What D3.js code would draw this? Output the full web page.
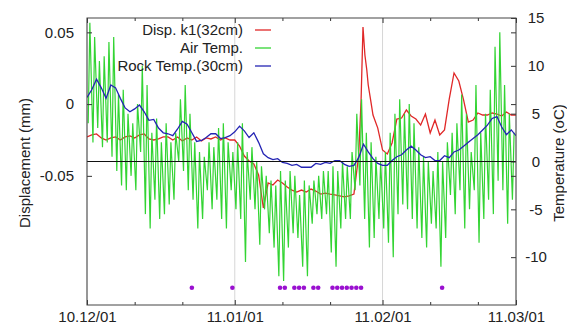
<!DOCTYPE html>
<html>
<head>
<meta charset="utf-8">
<script src="https://cdn.jsdelivr.net/npm/d3@7"></script>
<style>
  html, body { margin: 0; padding: 0; background: #fff; }
  svg { display: block; }
  text { font-family: "Liberation Sans", Arial, sans-serif; fill: #222; }
</style>
</head>
<body>
<div id="chart"></div>
<script>
// Data: day offsets counted from 2010-12-01
const startDate = new Date(2010, 11, 1);
const endDate = new Date(2011, 2, 1);

const dispTicks = [0.05, 0, -0.05];
const tempTicks = [15, 10, 5, 0, -5, -10];
const legendLabels = ["Disp. k1(32cm)", "Air Temp.", "Rock Temp.(30cm)"];

// Displacement k1 (mm)
const dispDays = [
  0, 1, 2, 3, 4, 5, 6, 7, 8, 9, 10, 11, 12, 13, 14, 15, 16, 17, 18, 19,
  20, 21, 22, 23, 24, 25, 26, 27, 28, 29, 30, 31, 32, 33, 34, 35, 36, 37, 38, 39,
  40, 41, 42, 43, 44, 45, 46, 47, 48, 49, 50, 51, 52, 53, 54, 55, 56, 57,
  57.5, 57.9, 58.3, 58.7, 59, 59.5,
  60, 61, 62, 63, 64, 65, 66, 67, 68, 69, 70, 71, 72, 73, 74, 75, 76, 77, 78, 79,
  80, 81, 82, 83, 84, 85, 86, 87, 88, 89, 90
];
const dispValues = [
  -0.0229, -0.0215, -0.0208, -0.0236, -0.0250, -0.0236, -0.0229, -0.0250, -0.0229, -0.0222,
  -0.0236, -0.0215, -0.0208, -0.0243, -0.0250, -0.0243, -0.0229, -0.0229, -0.0250, -0.0229,
  -0.0257, -0.0236, -0.0250, -0.0229, -0.0257, -0.0236, -0.0243, -0.0229, -0.0250, -0.0236,
  -0.0250, -0.0250, -0.0292, -0.0362, -0.0397, -0.0417, -0.0494, -0.0724, -0.0550, -0.0564,
  -0.0529, -0.0550, -0.0578, -0.0599, -0.0613, -0.0599, -0.0613, -0.0592, -0.0606, -0.0627,
  -0.0620, -0.0627, -0.0633, -0.0640, -0.0647, -0.0640, -0.0627, -0.0355,
  0.0029, 0.0537, 0.0342, 0.0238, 0.0133, 0.0029,
  -0.0076, -0.0167, -0.0320, -0.0348, -0.0271, -0.0104, -0.0097, -0.0041, -0.0083, -0.0104,
  -0.0146, -0.0069, -0.0201, -0.0111, -0.0215, -0.0180, 0.0036, 0.0217, 0.0161, 0.0029,
  -0.0125, -0.0111, -0.0062, -0.0076, -0.0076, -0.0062, -0.0069, -0.0083, -0.0055, -0.0076, -0.0076
];

// Air temperature, daily max / min (oC), days 0..89
const airMax = [
  14.5, 13, 10.5, 11, 12.5, 13, 7, 7.5, 5, 4,
  6, 10, 8, 3, 4.5, 2, 4, 2, 3, 6.5,
  8, 5, 2, 1, 0.5, 2, 1.5, 3.5, 4, 2,
  1, 2, 4, 1, 1.5, 0, -0.5, -1.5, -2, -2.5,
  -1, -2, -1, -1.5, -3.5, -2, -2.5, -2, -1.5, -1,
  -1, -0.5, -1, 0, -0.5, 1, 5, 6.5, 3, 2,
  0.5, 0, 1, 3, 5, 6.5, 5, 6, 4, 1.5,
  0.5, 0, -1, 1, 0, 2, 3, 4, 7, 5,
  1, 8, 3, 5, 7.5, 12, 13.5, 8, 5, 3
];
const airMin = [
  4, 2, 3.5, 1.5, 2, 0.5, -1, -2.5, -3, -1.5,
  -3, 1, -5.5, -7, -4, -6, -5.5, -4.5, -4, 0,
  -1, -3, -4, -7, -6, -3, -5, -4, -6, -7,
  -3, -5, -6, -10.5, -4, -5, -8.7, -5, -7.5, -9,
  -12, -12.5, -9, -7.5, -8, -11, -12, -6.5, -5.5, -6,
  -5.5, -9.5, -11, -7, -6, -6, -3, -2.5, -6, -9,
  -8, -6, -7, -8.5, -10, -5.5, -4.5, -5, -6, -7,
  -8, -9, -6.5, -7, -11, -8, -3.5, -5.5, -3, -7,
  -5, -3, -8.5, -6, -4, -5.5, -2, -3, -6.5, -4
];

// Rock temperature at 30cm (oC), days 0..90
const rockTemp = [
  6.7, 7.5, 8.6, 7.7, 6.6, 8.0, 7.7, 6.6, 5.6, 5.2,
  5.5, 5.9, 5.2, 4.3, 4.4, 3.5, 3.0, 2.9, 2.7, 3.4,
  4.2, 3.9, 3.0, 2.1, 2.2, 2.5, 2.9, 2.9, 2.4, 2.5,
  2.7, 3.1, 3.7, 3.2, 2.5, 3.0, 2.0, 0.8, 0.4, 0.2,
  0.3, -0.1, -0.2, -0.4, -0.3, -0.6, -0.6, -0.6, -0.2, -0.3,
  -0.1, -0.2, 0.1, 0.1, -0.3, -0.5, -0.4, 0.4, 1.8, 1.0,
  0.3, -0.2, -0.4, -0.4, 0.1, 0.5, 0.7, 1.2, 1.6, 1.2,
  0.7, 0.4, 0.5, 0.1, 0.1, 0.6, 0.4, 1.0, 1.2, 1.6,
  2.0, 2.4, 2.8, 3.3, 3.8, 4.5, 4.7, 3.6, 2.8, 3.3, 2.7
];

// Event markers (days) and the level they are drawn at (oC)
const eventDays = [22, 30.5, 40.5, 41.5, 43.5, 44.5, 45.5, 47.5, 48.5, 51.5, 52.5, 53.5, 54.5, 55.5, 56.5, 57.5, 74.5];
const eventLevel = -13.2;

// Configuration
const width = 567;
const height = 325;
const plot = { left: 87, right: 516, top: 18, bottom: 305 };
const colorDisp = "#e02828";
const colorAir = "#33d433";
const colorRock = "#2424b4";
const colorEvent = "#9a10d0";
const fontSize = 15;

const dayToDate = d => new Date(startDate.getTime() + d * 864e5);

const svg = d3.select("#chart")
  .append("svg")
  .attr("width", width)
  .attr("height", height)
  .attr("viewBox", `0 0 ${width} ${height}`);

// Scales
const x = d3.scaleTime().domain([startDate, endDate]).range([plot.left, plot.right]);
const yDisp = d3.scaleLinear().domain([-0.14, 0.06]).range([plot.bottom, plot.top]);
const yTemp = d3.scaleLinear().domain([-15, 15]).range([plot.bottom, plot.top]);

const monthTicks = d3.timeMonth.range(startDate, d3.timeDay.offset(endDate, 1));
const minorTicks = d3.timeDay.range(startDate, endDate).filter(d => d.getDate() === 11 || d.getDate() === 21);

svg.append("defs").append("clipPath").attr("id", "plot-clip")
  .append("rect")
  .attr("x", plot.left).attr("y", plot.top)
  .attr("width", plot.right - plot.left).attr("height", plot.bottom - plot.top);

// Vertical grid at month ticks
svg.append("g")
  .selectAll("line")
  .data(monthTicks)
  .enter()
  .append("line")
  .attr("x1", d => x(d)).attr("x2", d => x(d))
  .attr("y1", plot.top).attr("y2", plot.bottom)
  .style("stroke", "#d6d6d6")
  .style("stroke-width", 1);

// Series
const data = {
  disp: dispDays.map((d, i) => ({ day: d, v: dispValues[i] })),
  air: airMax.flatMap((mx, i) => [{ day: i + 0.25, v: airMin[i] }, { day: i + 0.6, v: mx }]),
  rock: rockTemp.map((v, i) => ({ day: i, v }))
};

const series = svg.append("g").attr("clip-path", "url(#plot-clip)");

series.append("path")
  .datum(data.disp)
  .attr("d", d3.line().x(d => x(dayToDate(d.day))).y(d => yDisp(d.v)))
  .style("fill", "none")
  .style("stroke", colorDisp)
  .style("stroke-width", 1.3);

series.append("path")
  .datum(data.air)
  .attr("d", d3.line().x(d => x(dayToDate(d.day))).y(d => yTemp(d.v)))
  .style("fill", "none")
  .style("stroke", colorAir)
  .style("stroke-width", 1.2);

series.append("path")
  .datum(data.rock)
  .attr("d", d3.line().x(d => x(dayToDate(d.day))).y(d => yTemp(d.v)))
  .style("fill", "none")
  .style("stroke", colorRock)
  .style("stroke-width", 1.3);

// Zero line of the temperature axis
svg.append("line")
  .attr("x1", plot.left).attr("x2", plot.right)
  .attr("y1", yTemp(0)).attr("y2", yTemp(0))
  .style("stroke", "#111")
  .style("stroke-width", 1);

// Event dots
svg.append("g")
  .selectAll("circle")
  .data(eventDays)
  .enter()
  .append("circle")
  .attr("cx", d => x(dayToDate(d)))
  .attr("cy", yTemp(eventLevel))
  .attr("r", 2.3)
  .style("fill", colorEvent);

// Axes (ticks pointing inward)
const styleAxis = g => {
  g.select(".domain").remove();
  g.selectAll(".tick line").style("stroke", "#333");
  g.selectAll("text").style("font-size", fontSize + "px").style("fill", "#222")
    .style("font-family", "'Liberation Sans', Arial, sans-serif");
};

svg.append("g")
  .attr("transform", `translate(0,${plot.bottom})`)
  .call(d3.axisBottom(x).tickValues(monthTicks).tickSizeInner(-5).tickSizeOuter(0)
    .tickPadding(6).tickFormat(d3.timeFormat("%y.%m/%d")))
  .call(styleAxis);

svg.append("g")
  .attr("transform", `translate(0,${plot.top})`)
  .call(d3.axisTop(x).tickValues(monthTicks).tickSizeInner(-5).tickSizeOuter(0).tickFormat(""))
  .call(styleAxis);

svg.append("g")
  .attr("transform", `translate(0,${plot.bottom})`)
  .call(d3.axisBottom(x).tickValues(minorTicks).tickSizeInner(-3).tickSizeOuter(0).tickFormat(""))
  .call(styleAxis);

svg.append("g")
  .attr("transform", `translate(0,${plot.top})`)
  .call(d3.axisTop(x).tickValues(minorTicks).tickSizeInner(-3).tickSizeOuter(0).tickFormat(""))
  .call(styleAxis);

svg.append("g")
  .attr("transform", `translate(${plot.left},0)`)
  .call(d3.axisLeft(yDisp).tickValues(dispTicks).tickSizeInner(-5).tickSizeOuter(0)
    .tickPadding(13).tickFormat(d => d === 0 ? "0" : d3.format(".2f")(d).replace("−", "-")))
  .call(styleAxis);

svg.append("g")
  .attr("transform", `translate(${plot.right},0)`)
  .call(d3.axisRight(yDisp).tickValues(dispTicks).tickSizeInner(-5).tickSizeOuter(0).tickFormat(""))
  .call(styleAxis);

svg.append("g")
  .attr("transform", `translate(${plot.right},0)`)
  .call(d3.axisRight(yTemp).tickValues(tempTicks).tickSizeInner(-5).tickSizeOuter(0)
    .tickPadding(20).tickFormat(d => String(d)))
  .call(styleAxis)
  .call(g => g.selectAll("text").attr("text-anchor", "middle"));

// Border
svg.append("rect")
  .attr("x", plot.left).attr("y", plot.top)
  .attr("width", plot.right - plot.left).attr("height", plot.bottom - plot.top)
  .style("fill", "none")
  .style("stroke", "#444")
  .style("stroke-width", 1);

// Axis titles
svg.append("text")
  .attr("transform", "translate(30,163) rotate(-90)")
  .attr("text-anchor", "middle")
  .style("font-size", fontSize + "px")
  .text("Displacement (mm)");

svg.append("text")
  .attr("transform", "translate(564,163) rotate(-90)")
  .attr("text-anchor", "middle")
  .style("font-size", fontSize + "px")
  .text("Temperature (oC)");

// Legend
const legend = svg.append("g")
  .selectAll("g")
  .data(legendLabels.map((label, i) => ({ label, color: [colorDisp, colorAir, colorRock][i] })))
  .enter()
  .append("g")
  .attr("transform", (d, i) => `translate(0,${30 + i * 18})`);

legend.append("text")
  .attr("x", 243)
  .attr("dy", "0.35em")
  .attr("text-anchor", "end")
  .style("font-size", fontSize + "px")
  .text(d => d.label);

legend.append("line")
  .attr("x1", 255).attr("x2", 271)
  .style("stroke", d => d.color)
  .style("stroke-width", 1.3);
</script>
</body>
</html>
